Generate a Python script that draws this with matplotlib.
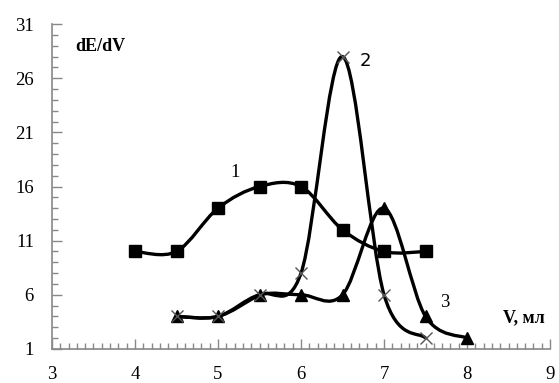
import numpy as np
import matplotlib
matplotlib.use("Agg")
import matplotlib.pyplot as plt
from matplotlib.path import Path
from matplotlib.patches import PathPatch
from matplotlib.ticker import MultipleLocator

# Data
x1 = [4, 4.5, 5, 5.5, 6, 6.5, 7, 7.5]
y1 = [10, 10, 14, 16, 16, 12, 10, 10]
x2 = [4.5, 5, 5.5, 6, 6.5, 7, 7.5]
y2 = [4, 4, 6, 8, 28, 6, 2]
x3 = [4.5, 5, 5.5, 6, 6.5, 7, 7.5, 8]
y3 = [4, 4, 6, 6, 6, 14, 4, 2]
xticks = [3, 4, 5, 6, 7, 8, 9]
yticks = [1, 6, 11, 16, 21, 26, 31]

plt.rcParams['font.family'] = ['Liberation Serif', 'DejaVu Serif']

fig = plt.figure(figsize=(5.59, 3.83), dpi=100)
ax = fig.add_axes([0.093, 0.089, 0.891, 0.848])


def smooth_path(xs, ys):
    p = np.column_stack([xs, ys]).astype(float)
    n = len(p)
    verts = [p[0]]
    codes = [Path.MOVETO]
    for i in range(n - 1):
        p0 = p[i - 1] if i > 0 else p[i]
        p1 = p[i]
        p2 = p[i + 1]
        p3 = p[i + 2] if i + 2 < n else p[i + 1]
        c1 = p1 + (p2 - p0) / 6.0
        c2 = p2 - (p3 - p1) / 6.0
        verts += [c1, c2, p2]
        codes += [Path.CURVE4] * 3
    return Path(verts, codes)


for xs, ys in [(x1, y1), (x2, y2), (x3, y3)]:
    ax.add_patch(PathPatch(smooth_path(xs, ys), facecolor='none',
                           edgecolor='black', lw=2.4, zorder=2))

ax.plot(x1, y1, ls='none', marker='s', ms=8.5, color='black', zorder=3)
ax.plot(x3, y3, ls='none', marker='^', ms=9, color='black', zorder=3)
ax.plot(x2, y2, ls='none', marker='x', ms=9, mew=1.0, color='#555555', zorder=4)

ax.set_xlim(3, 9)
ax.set_ylim(1, 31)
ax.set_xticks(xticks)
ax.set_yticks(yticks)
ax.xaxis.set_minor_locator(MultipleLocator(0.1))
ax.yaxis.set_minor_locator(MultipleLocator(1))

for s in ['top', 'right']:
    ax.spines[s].set_visible(False)
for s in ['left', 'bottom']:
    ax.spines[s].set_color('#888888')
    ax.spines[s].set_linewidth(1.2)

ax.tick_params(axis='both', which='both', direction='in', color='#888888', width=1.0)
ax.tick_params(axis='x', which='major', length=7, pad=12, labelsize=13.5)
ax.tick_params(axis='x', which='minor', length=4)
ax.tick_params(axis='y', which='major', length=7, pad=13, labelsize=13.5)
ax.tick_params(axis='y', which='minor', length=4)

ax.text(3.28, 28.9, 'dE/dV', fontsize=13, fontweight='bold', ha='left', va='center')
ax.text(8.94, 3.9, 'V, мл', fontsize=13, fontweight='bold', ha='right', va='center')
ax.text(5.2, 17.3, '1', fontsize=13.5, ha='center', va='center')
ax.text(6.78, 27.6, '2', fontsize=13, ha='center', va='center', family='DejaVu Sans')
ax.text(7.73, 5.25, '3', fontsize=13.5, ha='center', va='center')

fig.savefig('out.png', dpi=100)
